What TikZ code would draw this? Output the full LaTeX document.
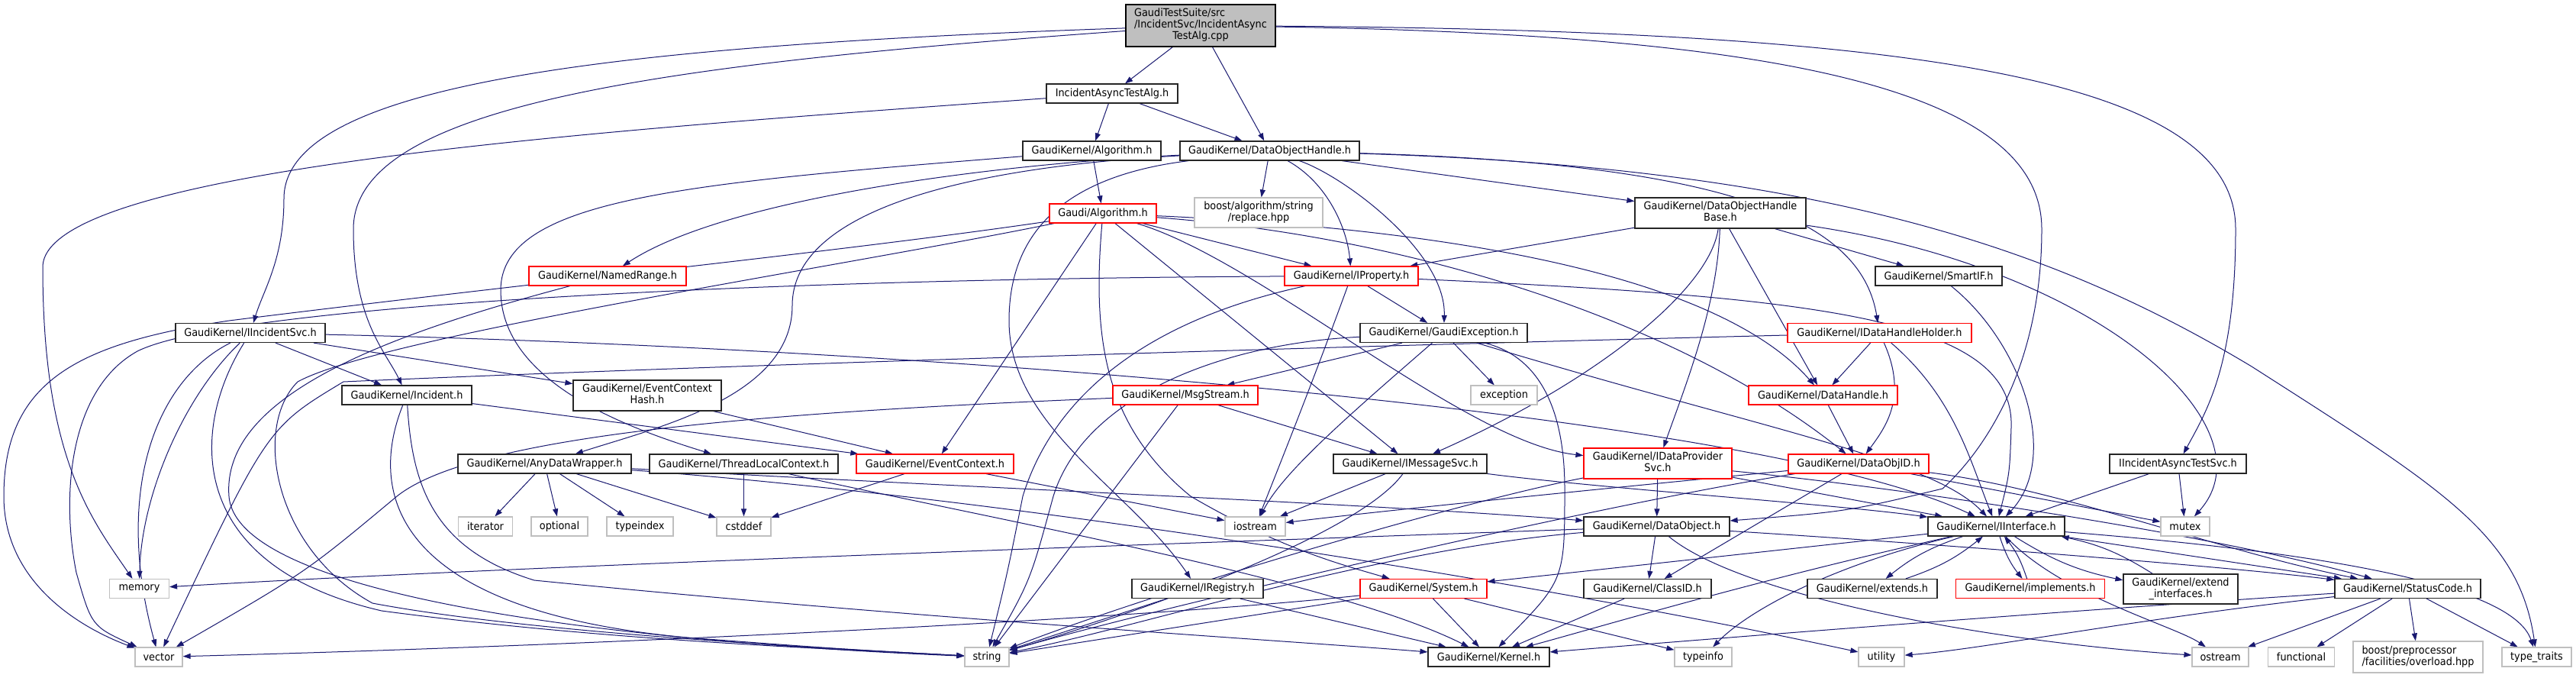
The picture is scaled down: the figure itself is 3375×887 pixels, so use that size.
\documentclass[tikz,border=0pt]{standalone}
\usepackage{fontspec}
\setmainfont{DejaVu Sans}[FakeStretch=0.92]
\usetikzlibrary{arrows.meta}
\definecolor{edgeblue}{HTML}{191970}
\definecolor{extgray}{HTML}{BFBFBF}
\pgfdeclarelayer{bg}
\pgfdeclarelayer{edges}
\pgfsetlayers{bg,edges,main}
\tikzstyle{hdr} = [rectangle, draw=black!85, line width=1.2pt, fill=white, minimum height=25pt,
inner sep=0pt, text centered, font=\fontsize{14}{15}\selectfont]
\tikzstyle{trunc} = [hdr, draw=red]
\tikzstyle{sysinc} = [hdr, draw=extgray]
\tikzstyle{mainfile} = [hdr, draw=black, fill=extgray]
\tikzstyle{arrow} = [line width=1pt, draw=edgeblue, ->, >={Triangle[length=10pt,width=7pt]}]
\newcommand{\hdrlines}[2]{\begin{tabular}{@{}l@{}}#1\\\multicolumn{1}{@{}c@{}}{#2}\end{tabular}}

\begin{document}
\begin{tikzpicture}[x=1pt, y=-1pt]
      \useasboundingbox (0,0) rectangle (3375,887);
      \begin{pgfonlayer}{bg}
        \fill[white] (0,0) rectangle (3375,887);
      \end{pgfonlayer}

      % top
      \node (cpp) [mainfile, minimum width=196pt, minimum height=55pt] at (1573,33.5) {\hdrlines{GaudiTestSuite/src\\/IncidentSvc/IncidentAsync}{TestAlg.cpp}};
      \node (iata) [hdr, minimum width=172pt] at (1457,122.5) {IncidentAsyncTestAlg.h};
      \node (gkalg) [hdr, minimum width=181pt] at (1430.5,197.5) {GaudiKernel/Algorithm.h};
      \node (doh) [hdr, minimum width=235pt] at (1663.5,197.5) {GaudiKernel/DataObjectHandle.h};
      \node (galg) [trunc, minimum width=140pt] at (1445,279.5) {Gaudi/Algorithm.h};
      \node (boostrep) [sysinc, minimum width=168pt, minimum height=39pt] at (1649,278.5) {\hdrlines{boost/algorithm/string}{/replace.hpp}};
      \node (dohbase) [hdr, minimum width=224pt, minimum height=40pt] at (2254,279) {\hdrlines{GaudiKernel/DataObjectHandle}{Base.h}};

      % middle
      \node (namedrange) [trunc, minimum width=206pt] at (796,361.5) {GaudiKernel/NamedRange.h};
      \node (iprop) [trunc, minimum width=175pt] at (1770.5,361.5) {GaudiKernel/IProperty.h};
      \node (smartif) [hdr, minimum width=166pt] at (2540,361.5) {GaudiKernel/SmartIF.h};
      \node (iincsvc) [hdr, minimum width=196pt] at (328,436) {GaudiKernel/IIncidentSvc.h};
      \node (gexc) [hdr, minimum width=219pt] at (1891.5,436) {GaudiKernel/GaudiException.h};
      \node (idhh) [trunc, minimum width=241pt] at (2462.5,436) {GaudiKernel/IDataHandleHolder.h};
      \node (echash) [hdr, minimum width=194pt, minimum height=40pt] at (848,518) {\hdrlines{GaudiKernel/EventContext}{Hash.h}};
      \node (incident) [hdr, minimum width=170pt] at (533,517.5) {GaudiKernel/Incident.h};
      \node (msgstream) [trunc, minimum width=190pt] at (1553,517.5) {GaudiKernel/MsgStream.h};
      \node (exception) [sysinc, minimum width=87pt] at (1970.5,517.5) {exception};
      \node (datahandle) [trunc, minimum width=195pt] at (2388.5,517.5) {GaudiKernel/DataHandle.h};
      \node (adw) [hdr, minimum width=227pt] at (713.5,607.5) {GaudiKernel/AnyDataWrapper.h};
      \node (tlc) [hdr, minimum width=247pt] at (974.5,607.5) {GaudiKernel/ThreadLocalContext.h};
      \node (evctx) [trunc, minimum width=206pt] at (1225,607.5) {GaudiKernel/EventContext.h};
      \node (imsgsvc) [hdr, minimum width=201pt] at (1847.5,607.5) {GaudiKernel/IMessageSvc.h};
      \node (idps) [trunc, minimum width=194pt, minimum height=40pt] at (2172,607) {\hdrlines{GaudiKernel/IDataProvider}{Svc.h}};
      \node (dataobjid) [trunc, minimum width=184pt] at (2435,607.5) {GaudiKernel/DataObjID.h};
      \node (iiats) [hdr, minimum width=179pt] at (2853.5,607.5) {IIncidentAsyncTestSvc.h};

      % lower
      \node (iterator) [sysinc, minimum width=71pt] at (636,689.5) {iterator};
      \node (optional) [sysinc, minimum width=74pt] at (733,689.5) {optional};
      \node (typeindex) [sysinc, minimum width=87pt] at (838.5,689.5) {typeindex};
      \node (cstddef) [sysinc, minimum width=71pt] at (974.5,689.5) {cstddef};
      \node (iostream) [sysinc, minimum width=79pt] at (1644.5,689.5) {iostream};
      \node (dataobject) [hdr, minimum width=191pt] at (2170.5,689.5) {GaudiKernel/DataObject.h};
      \node (iinterface) [hdr, minimum width=179pt] at (2615.5,689.5) {GaudiKernel/IInterface.h};
      \node (mutex) [sysinc, minimum width=64pt] at (2863,689.5) {mutex};
      \node (memory) [sysinc, minimum width=78pt] at (182.5,771) {memory};
      \node (iregistry) [hdr, minimum width=172pt] at (1569,771) {GaudiKernel/IRegistry.h};
      \node (system) [trunc, minimum width=166pt] at (1865,771) {GaudiKernel/System.h};
      \node (classid) [hdr, minimum width=167pt] at (2158.5,771) {GaudiKernel/ClassID.h};
      \node (extends) [hdr, minimum width=170pt] at (2453,771) {GaudiKernel/extends.h};
      \node (implements) [trunc, minimum width=195pt] at (2660,771) {GaudiKernel/implements.h};
      \node (extintf) [hdr, minimum width=150pt, minimum height=39pt] at (2857,771.5) {\hdrlines{GaudiKernel/extend}{\_interfaces.h}};
      \node (statuscode) [hdr, minimum width=191pt] at (3154.5,771) {GaudiKernel/StatusCode.h};

      % bottom
      \node (vector) [sysinc, minimum width=62pt] at (208,860.5) {vector};
      \node (string) [sysinc, minimum width=58pt] at (1293,860.5) {string};
      \node (kernel) [hdr, minimum width=159pt] at (1950.5,860.5) {GaudiKernel/Kernel.h};
      \node (typeinfo) [sysinc, minimum width=75pt] at (2231.5,860.5) {typeinfo};
      \node (utility) [sysinc, minimum width=60pt] at (2465,860.5) {utility};
      \node (ostream) [sysinc, minimum width=74pt] at (2909,860.5) {ostream};
      \node (functional) [sysinc, minimum width=87pt] at (3015,860.5) {functional};
      \node (overload) [sysinc, minimum width=170pt, minimum height=41pt] at (3168,860.5) {\hdrlines{boost/preprocessor}{/facilities/overload.hpp}};
      \node (typetraits) [sysinc, minimum width=91pt] at (3323.5,860.5) {type\_traits};

      \begin{pgfonlayer}{edges}
      % cpp
      \draw [arrow] (cpp) -- (iata);
      \draw [arrow] (cpp) -- (doh);
      \draw [arrow] (cpp) .. controls (800,60) and (372,110) .. (372,260) .. controls (372,340) and (345,380) .. (iincsvc);
      \draw [arrow] (cpp) .. controls (850,85) and (463,140) .. (463,300) .. controls (463,420) and (505,460) .. (incident);
      \draw [arrow] (cpp) .. controls (2300,45) and (2675,110) .. (2675,300) .. controls (2675,480) and (2600,590) .. (2545,640) .. controls (2420,670) .. (dataobject);
      \draw [arrow] (cpp) .. controls (2500,40) and (2929,100) .. (2929,300) .. controls (2929,480) and (2890,540) .. (iiats);

      % IncidentAsyncTestAlg.h
      \draw [arrow] (iata) -- (gkalg);
      \draw [arrow] (iata) -- (doh);
      \draw [arrow] (iata) .. controls (800,170) and (56,220) .. (56,350) .. controls (56,600) and (120,680) .. (memory);

      % GaudiKernel/Algorithm.h
      \draw [arrow] (gkalg) -- (galg);
      \draw [arrow] (gkalg) .. controls (900,240) and (656,260) .. (656,380) .. controls (656,500) and (820,560) .. (tlc);

      % DataObjectHandle.h
      \draw [arrow] (doh) .. controls (1300,215) and (950,260) .. (namedrange);
      \draw [arrow] (doh) .. controls (1250,220) and (1038,280) .. (1038,400) .. controls (1038,520) and (860,560) .. (adw);
      \draw [arrow] (doh) .. controls (1400,230) and (1322,300) .. (1322,420) .. controls (1322,560) and (1480,640) .. (iregistry);
      \draw [arrow] (doh) -- (boostrep);
      \draw [arrow] (doh) .. controls (1740,240) and (1765,300) .. (iprop);
      \draw [arrow] (doh) .. controls (1760,230) and (1895,330) .. (gexc);
      \draw [arrow] (doh) -- (dohbase);
      \draw [arrow] (doh) .. controls (2300,215) and (2440,300) .. (idhh);
      \draw [arrow] (doh) .. controls (2400,220) and (2700,330) .. (2950,480) .. controls (3200,640) and (3300,700) .. (typetraits);

      % Gaudi/Algorithm.h
      \draw [arrow] (galg) -- (evctx);
      \draw [arrow] (galg) .. controls (1430,450) and (1450,560) .. (1560,650) .. controls (1680,720) and (1760,740) .. (system);
      \draw [arrow] (galg) -- (imsgsvc);
      \draw [arrow] (galg) -- (iprop);
      \draw [arrow] (galg) .. controls (1900,300) and (2250,360) .. (datahandle);
      \draw [arrow] (galg) .. controls (1850,310) and (2200,420) .. (dataobjid);
      \draw [arrow] (galg) .. controls (1650,340) and (1920,580) .. (idps);
      \draw [arrow] (galg) .. controls (1100,330) and (700,370) .. (300,420) .. controls (100,450) and (5,500) .. (5,650) .. controls (5,760) and (100,820) .. (vector);
      \draw [arrow] (galg) .. controls (1100,350) and (500,440) .. (390,500) .. controls (330,560) and (360,720) .. (488,790) .. controls (700,830) and (1100,850) .. (string);

      % DataObjectHandleBase.h
      \draw [arrow] (dohbase) -- (iprop);
      \draw [arrow] (dohbase) -- (smartif);
      \draw [arrow] (dohbase) -- (datahandle);
      \draw [arrow] (dohbase) .. controls (2250,400) and (2210,500) .. (idps);
      \draw [arrow] (dohbase) .. controls (2240,380) and (2090,500) .. (imsgsvc);
      \draw [arrow] (dohbase) .. controls (2750,350) and (2980,560) .. (mutex);

      % NamedRange.h
      \draw [arrow] (namedrange) .. controls (500,440) and (290,520) .. (300,650) .. controls (310,780) and (800,840) .. (string);

      % IProperty.h
      \draw [arrow] (iprop) -- (gexc);
      \draw [arrow] (iprop) .. controls (2400,390) and (2640,420) .. (2635,560) .. controls (2633,620) .. (iinterface);
      \draw [arrow] (iprop) .. controls (1720,500) and (1680,600) .. (iostream);
      \draw [arrow] (iprop) .. controls (1500,420) and (1380,520) .. (1340,650) .. controls (1320,750) .. (string);
      \draw [arrow] (iprop) .. controls (1000,365) and (300,400) .. (180,460) .. controls (90,510) and (80,650) .. (100,750) .. controls (120,820) .. (vector);

      % SmartIF.h
      \draw [arrow] (smartif) .. controls (2650,450) and (2700,600) .. (iinterface);

      % IIncidentSvc.h
      \draw [arrow] (iincsvc) .. controls (200,500) and (150,650) .. (vector);
      \draw [arrow] (iincsvc) .. controls (240,520) and (185,650) .. (memory);
      \draw [arrow] (iincsvc) .. controls (250,560) and (240,740) .. (500,800) .. controls (800,840) and (1100,850) .. (string);
      \draw [arrow] (iincsvc) -- (incident);
      \draw [arrow] (iincsvc) -- (echash);
      \draw [arrow] (iincsvc) .. controls (1200,455) and (2300,540) .. (iinterface);

      % Incident.h
      \draw [arrow] (incident) -- (evctx);
      \draw [arrow] (incident) .. controls (480,650) and (520,800) .. (900,835) .. controls (1100,850) .. (string);
      \draw [arrow] (incident) .. controls (540,640) and (570,720) .. (700,760) .. controls (1200,810) and (1700,840) .. (kernel);

      % EventContextHash.h
      \draw [arrow] (echash) -- (evctx);

      % MsgStream.h
      \draw [arrow] (msgstream) -- (imsgsvc);
      \draw [arrow] (msgstream) -- (string);
      \draw [arrow] (msgstream) .. controls (1000,540) and (620,570) .. (520,650) .. controls (400,750) .. (vector);

      % GaudiException.h
      \draw [arrow] (gexc) -- (exception);
      \draw [arrow] (gexc) -- (msgstream);
      \draw [arrow] (gexc) .. controls (2030,470) and (2050,560) .. (2050,640) .. controls (2050,760) .. (kernel);
      \draw [arrow] (gexc) .. controls (1600,450) and (1420,520) .. (1380,650) .. controls (1350,760) .. (string);
      \draw [arrow] (gexc) .. controls (1760,550) and (1680,620) .. (iostream);
      \draw [arrow] (gexc) .. controls (2300,560) and (2530,600) .. (iinterface);

      % IDataHandleHolder.h
      \draw [arrow] (idhh) -- (datahandle);
      \draw [arrow] (idhh) .. controls (2500,520) and (2470,560) .. (dataobjid);
      \draw [arrow] (idhh) .. controls (2560,520) and (2580,600) .. (iinterface);
      \draw [arrow] (idhh) .. controls (1700,455) and (900,480) .. (450,500) .. controls (350,560) .. (vector);

      % DataHandle.h
      \draw [arrow] (datahandle) -- (dataobjid);

      % AnyDataWrapper.h
      \draw [arrow] (adw) -- (iterator);
      \draw [arrow] (adw) -- (optional);
      \draw [arrow] (adw) -- (typeindex);
      \draw [arrow] (adw) -- (cstddef);
      \draw [arrow] (adw) .. controls (1300,640) and (1800,660) .. (dataobject);
      \draw [arrow] (adw) .. controls (1300,650) and (2000,760) .. (utility);

      % ThreadLocalContext.h
      \draw [arrow] (tlc) -- (cstddef);
      \draw [arrow] (tlc) .. controls (1300,680) and (1750,760) .. (kernel);

      % EventContext.h
      \draw [arrow] (evctx) -- (cstddef);
      \draw [arrow] (evctx) -- (iostream);

      % IMessageSvc.h
      \draw [arrow] (imsgsvc) -- (iostream);
      \draw [arrow] (imsgsvc) .. controls (1780,700) and (1500,800) .. (string);
      \draw [arrow] (imsgsvc) .. controls (2100,640) and (2400,660) .. (iinterface);

      % IDataProviderSvc.h
      \draw [arrow] (idps) -- (dataobject);
      \draw [arrow] (idps) -- (iinterface);
      \draw [arrow] (idps) .. controls (1900,660) and (1500,780) .. (string);
      \draw [arrow] (idps) .. controls (2500,640) and (2900,700) .. (statuscode);

      % DataObjID.h
      \draw [arrow] (dataobjid) -- (classid);
      \draw [arrow] (dataobjid) -- (mutex);
      \draw [arrow] (dataobjid) .. controls (2100,640) and (1800,670) .. (iostream);
      \draw [arrow] (dataobjid) .. controls (2700,640) and (2900,720) .. (statuscode);
      \draw [arrow] (dataobjid) .. controls (2100,660) and (1500,800) .. (string);

      % DataObject.h
      \draw [arrow] (dataobject) -- (classid);
      \draw [arrow] (dataobject) .. controls (2500,710) and (2900,740) .. (statuscode);
      \draw [arrow] (dataobject) .. controls (2280,780) and (2600,840) .. (ostream);
      \draw [arrow] (dataobject) .. controls (1600,710) and (700,740) .. (memory);
      \draw [arrow] (dataobject) .. controls (1800,720) and (1500,820) .. (string);

      % IIncidentAsyncTestSvc.h
      \draw [arrow] (iiats) -- (iinterface);
      \draw [arrow] (iiats) -- (mutex);

      % IRegistry.h, System.h, ClassID.h
      \draw [arrow] (iregistry) -- (string);
      \draw [arrow] (iregistry) -- (kernel);
      \draw [arrow] (system) -- (kernel);
      \draw [arrow] (system) -- (typeinfo);
      \draw [arrow] (system) .. controls (1500,810) and (800,845) .. (vector);
      \draw [arrow] (system) -- (string);
      \draw [arrow] (classid) -- (kernel);

      % IInterface.h
      \draw [arrow] (iinterface) to[bend right=10] (extends);
      \draw [arrow] (extends) to[bend right=10] (iinterface);
      \draw [arrow] (iinterface) to[bend right=10] (implements);
      \draw [arrow] (implements) to[bend right=10] (iinterface);
      \draw [arrow] (iinterface) to[bend right=10] (extintf);
      \draw [arrow] (extintf) to[bend right=10] (iinterface);
      \draw [arrow] (iinterface) -- (statuscode);
      \draw [arrow] (iinterface) .. controls (2300,760) and (2100,820) .. (kernel);
      \draw [arrow] (iinterface) -- (system);
      \draw [arrow] (iinterface) .. controls (2400,740) and (2290,800) .. (typeinfo);
      \draw [arrow] (iinterface) .. controls (2700,780) and (2850,820) .. (ostream);
      \draw [arrow] (iinterface) .. controls (3000,720) and (3290,760) .. (typetraits);

      % StatusCode.h
      \draw [arrow] (statuscode) -- (ostream);
      \draw [arrow] (statuscode) -- (functional);
      \draw [arrow] (statuscode) -- (overload);
      \draw [arrow] (statuscode) -- (typetraits);
      \draw [arrow] (statuscode) .. controls (2700,800) and (2200,840) .. (kernel);
      \draw [arrow] (statuscode) .. controls (2800,810) and (2600,850) .. (utility);
      \end{pgfonlayer}
    \end{tikzpicture}
\end{document}
